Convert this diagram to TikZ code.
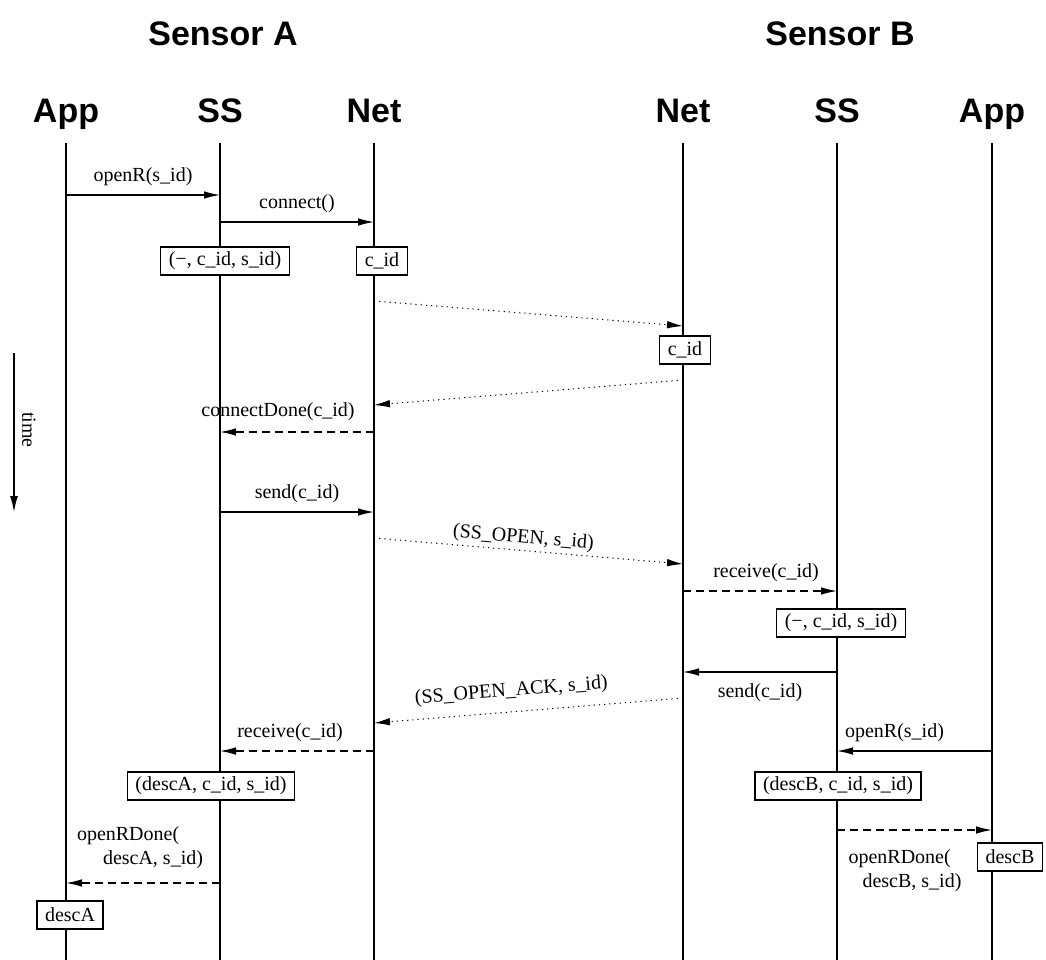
\documentclass[tikz,border=0pt]{standalone}
\usepackage{fontspec}
\setmainfont{Liberation Serif}
\newfontfamily\headfont{Liberation Sans}
\usepackage{tikz}
\usetikzlibrary{arrows.meta}

\tikzset{
  head/.style={font=\headfont\bfseries\fontsize{17}{20}\selectfont, anchor=base},
  lbl/.style={font=\fontsize{10}{12}\selectfont, inner sep=1.5pt},
  life/.style={line width=0.7pt},
  call/.style={line width=0.6pt, -{Latex[length=8pt,width=3.8pt]}},
  reply/.style={call, dash pattern=on 4pt off 2.5pt},
  pkt/.style={call, line width=0.5pt, dash pattern=on 0.6pt off 2pt},
  box/.style={draw, fill=white, line width=0.6pt, inner xsep=4pt, inner ysep=2.5pt,
    minimum height=14pt, font=\fontsize{10}{12}\selectfont}
}

\begin{document}
\begin{tikzpicture}[x=0.5pt, y=-0.5pt]
    \useasboundingbox (0,0) rectangle (1046,960);

    % sensors
    \node[head] (sensA) at (223,45) {Sensor A};
    \node[head] (sensB) at (840,45) {Sensor B};

    % lifelines
    \foreach \x/\name/\label in {
        66/appA/App,
        220/ssA/SS,
        374/netA/Net,
        683/netB/Net,
        837/ssB/SS,
        992/appB/App
    }{
        \node[head] (h\name) at (\x,122) {\label};
        \coordinate (\name) at (\x,143);
        \draw[life] (\name) -- (\x,960);
    }

    % time axis
    \coordinate (t0) at (14,353);
    \coordinate (t1) at (14,512);
    \draw[line width=0.7pt, -{Latex[length=8pt,width=4pt]}] (t0) -- (t1);
    \node[lbl, rotate=-90] (time) at (29,430) {time};

    % opening on sensor A
    \draw[call] (appA |- 0,195) -- node[lbl, above=3pt] {openR(s\_id)} (ssA |- 0,195);
    \draw[call] (ssA |- 0,222) -- node[lbl, above=3pt] {connect()} (netA |- 0,222);
    \node[box] (tupA) at (225,261) {(−, c\_id, s\_id)};
    \node[box] (cidA) at (382,261) {c\_id};

    \draw[pkt] (netA |- 0,301) -- (netB |- 0,326);
    \node[box] (cidB) at (685,350) {c\_id};
    \draw[pkt] (netB |- 0,380) -- (netA |- 0,405);
    \draw[reply] (netA |- 0,432) -- node[lbl, above=4pt, xshift=-9.5pt] {connectDone(c\_id)} (ssA |- 0,432);

    % request to sensor B
    \draw[call] (ssA |- 0,512) -- node[lbl, above=3pt] {send(c\_id)} (netA |- 0,512);
    \draw[pkt] (netA |- 0,538) -- node[lbl, sloped, above=0pt, pos=0.48] {(SS\_OPEN, s\_id)} (netB |- 0,564);
    \draw[reply] (netB |- 0,591) -- node[lbl, above=3pt, xshift=3pt] {receive(c\_id)} (ssB |- 0,591);
    \node[box] (tupB) at (841,623) {(−, c\_id, s\_id)};

    % acknowledgement
    \draw[call] (ssB |- 0,672) -- node[lbl, below=4pt] {send(c\_id)} (netB |- 0,672);
    \draw[pkt] (netB |- 0,698) -- node[lbl, sloped, above=4pt, pos=0.55] {(SS\_OPEN\_ACK, s\_id)} (netA |- 0,723);
    \draw[reply] (netA |- 0,751) -- node[lbl, above=3pt, xshift=-3.5pt] {receive(c\_id)} (ssA |- 0,751);
    \node[box] (descTupA) at (211,786) {(descA, c\_id, s\_id)};

    \draw[call] (appB |- 0,751) -- node[lbl, above=3pt, xshift=-10pt] {openR(s\_id)} (ssB |- 0,751);
    \node[box] (descTupB) at (838,786) {(descB, c\_id, s\_id)};

    % done
    \draw[reply] (ssB |- 0,830) -- (appB |- 0,830);
    \node[lbl, align=left] (doneB) at (905,871) {openRDone(\\\hspace{7pt}descB, s\_id)};
    \node[box] (descB) at (1010,857) {descB};

    \draw[reply] (ssA |- 0,883) -- (appA |- 0,883);
    \node[lbl, align=left] (doneA) at (140,848) {openRDone(\\\hspace{13pt}descA, s\_id)};
    \node[box] (descA) at (70,915) {descA};
\end{tikzpicture}
\end{document}
